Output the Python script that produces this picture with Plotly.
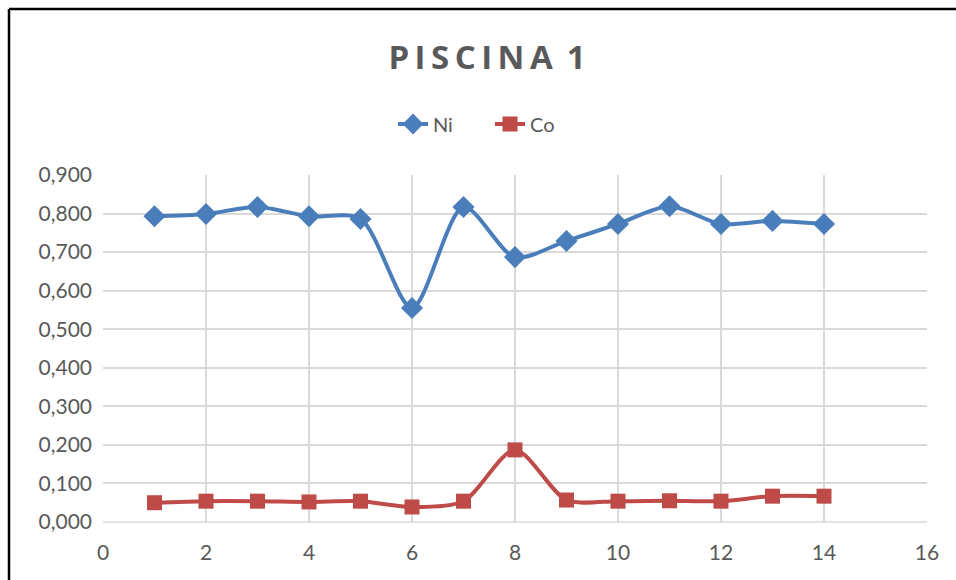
import plotly.graph_objects as go

x_vals = list(range(1, 15))
ni_vals = [0.793, 0.799, 0.817, 0.793, 0.786, 0.555, 0.817, 0.687, 0.729, 0.773, 0.819, 0.773, 0.781, 0.773]
co_vals = [0.050, 0.054, 0.054, 0.052, 0.054, 0.039, 0.054, 0.187, 0.057, 0.054, 0.055, 0.054, 0.067, 0.067]

NI_COLOR = "#4A7EBB"
CO_COLOR = "#BE4B48"
TXT = "#595959"
GRID = "#D9D9D9"

fig = go.Figure()
fig.add_trace(go.Scatter(
    x=x_vals, y=ni_vals, name="Ni", mode="lines+markers",
    line=dict(color=NI_COLOR, width=4, shape="spline", smoothing=0.8),
    marker=dict(symbol="diamond", size=17, color=NI_COLOR),
))
fig.add_trace(go.Scatter(
    x=x_vals, y=co_vals, name="Co", mode="lines+markers",
    line=dict(color=CO_COLOR, width=4, shape="spline", smoothing=0.8),
    marker=dict(symbol="square", size=15, color=CO_COLOR),
))

W, H = 956, 580
L, R, T, B = 103, 29, 175, 58
pw, ph = W - L - R, H - T - B

def px(xp):
    return (xp - L) / pw

def py(yp):
    return (H - B - yp) / ph

FONT = "Lato, Open Sans, sans-serif"
title_text = "\u2009".join("PISCINA") + " \u20091"

fig.update_layout(
    width=W, height=H,
    margin=dict(l=L, r=R, t=T, b=B),
    paper_bgcolor="white", plot_bgcolor="white",
    separators=",.",
    font=dict(family=FONT, color=TXT, size=19),
    title=dict(
        text=title_text,
        x=487 / W, xanchor="center", xref="container",
        y=1 - 57 / H, yanchor="middle", yref="container",
        font=dict(size=33, color=TXT, family="Open Sans, sans-serif", weight="bold"),
    ),
    legend=dict(
        orientation="h", x=px(393), xanchor="left", y=py(124), yanchor="middle",
        font=dict(size=20, color=TXT, family=FONT), traceorder="normal",
        entrywidth=52, bgcolor="rgba(0,0,0,0)",
    ),
    xaxis=dict(
        range=[0, 16], dtick=2, tick0=0,
        showgrid=True, gridcolor=GRID, gridwidth=1.5,
        zeroline=False, showline=False,
        ticks="", tickfont=dict(size=21, color=TXT, family=FONT), ticklabelstandoff=16,
    ),
    yaxis=dict(
        range=[0, 0.9], dtick=0.1, tickformat=".3f",
        showgrid=True, gridcolor=GRID, gridwidth=1.5,
        zeroline=False, showline=False,
        ticks="", tickfont=dict(size=21, color=TXT, family=FONT), ticklabelstandoff=10,
    ),
    showlegend=True,
)

# outer frame (partial, as in reference: left and top borders)
fig.add_shape(type="line", xref="paper", yref="paper",
              x0=px(9), x1=px(9), y0=py(9), y1=py(590),
              line=dict(color="black", width=2.5))
fig.add_shape(type="line", xref="paper", yref="paper",
              x0=px(9), x1=px(960), y0=py(9), y1=py(9),
              line=dict(color="black", width=2.5))
fig.add_shape(type="line", xref="paper", yref="paper",
              x0=0, x1=1, y0=0, y1=0, line=dict(color=GRID, width=1.5), layer="below")

fig.write_html("out.html")
